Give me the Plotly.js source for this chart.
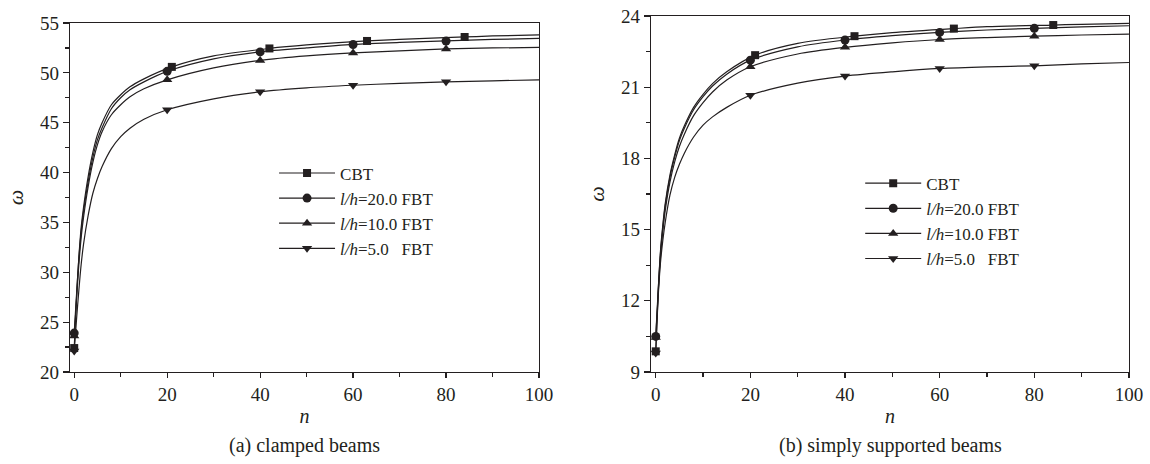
<!DOCTYPE html>
<html>
<head>
<meta charset="utf-8">
<script src="https://cdn.plot.ly/plotly-3.0.1.min.js"></script>
<style>html,body{margin:0;padding:0;background:#fff}#chart{width:1150px;height:464px}</style>
</head>
<body>
<div id="chart"></div>
<script>
// ---------- data ----------
var seriesNames = ['CBT', '<i>l/h</i>=20.0 FBT', '<i>l/h</i>=10.0 FBT', '<i>l/h</i>=5.0\u00a0\u00a0\u00a0FBT'];

// n values used for each curve
var nCBT = [0, 0.5, 1, 1.5, 2, 3, 4, 5, 6, 8, 10, 12, 15, 21, 30, 42, 50, 63, 70, 84, 90, 100];
var nFBT = [0, 0.5, 1, 1.5, 2, 3, 4, 5, 6, 8, 10, 12, 15, 20, 30, 40, 50, 60, 70, 80, 90, 100];
// n values where a symbol is drawn
var markCBT = [0, 21, 42, 63, 84];
var markFBT = [0, 20, 40, 60, 80];

// (a) clamped beams
var clampedCBT  = [22.4, 27.5, 31.5, 34.5, 36.5, 39.6, 42.0, 43.8, 45.0, 46.8, 47.8, 48.6, 49.4, 50.6, 51.7, 52.45, 52.8, 53.2, 53.35, 53.6, 53.7, 53.8];
var clampedLh20 = [23.9, 27.8, 31.4, 34.1, 36.1, 39.1, 41.5, 43.3, 44.5, 46.4, 47.5, 48.3, 49.1, 50.15, 51.4, 52.1, 52.5, 52.85, 53.05, 53.2, 53.35, 53.45];
var clampedLh10 = [23.6, 27.3, 30.8, 33.5, 35.5, 38.6, 41.0, 42.8, 44.1, 45.8, 46.8, 47.6, 48.4, 49.3, 50.5, 51.25, 51.7, 52.0, 52.2, 52.4, 52.5, 52.55];
var clampedLh5  = [22.1, 25.3, 28.2, 30.8, 32.8, 35.7, 37.9, 39.4, 40.6, 42.4, 43.6, 44.45, 45.35, 46.3, 47.4, 48.1, 48.5, 48.76, 48.95, 49.1, 49.2, 49.3];

// (b) simply supported beams
var simpleCBT  = [9.87, 12.3, 14.1, 15.2, 16.1, 17.3, 18.15, 18.85, 19.35, 20.15, 20.7, 21.15, 21.65, 22.35, 22.85, 23.15, 23.3, 23.47, 23.55, 23.62, 23.65, 23.69];
var simpleLh20 = [10.5, 12.4, 14.0, 15.1, 16.0, 17.2, 18.05, 18.75, 19.25, 20.05, 20.6, 21.05, 21.55, 22.14, 22.7, 22.99, 23.17, 23.31, 23.41, 23.48, 23.54, 23.59];
var simpleLh10 = [10.45, 12.25, 13.85, 14.95, 15.8, 17.0, 17.85, 18.5, 19.0, 19.8, 20.35, 20.8, 21.3, 21.86, 22.4, 22.68, 22.87, 23.01, 23.09, 23.15, 23.2, 23.24];
var simpleLh5  = [9.8, 12.1, 13.6, 14.55, 15.3, 16.45, 17.2, 17.75, 18.2, 18.9, 19.4, 19.75, 20.15, 20.66, 21.17, 21.47, 21.65, 21.79, 21.86, 21.9, 21.98, 22.04];

var xTickVals = [0, 20, 40, 60, 80, 100];
var yTickValsA = [20, 25, 30, 35, 40, 45, 50, 55];
var yTickValsB = [9, 12, 15, 18, 21, 24];
var panelLabels = ['(a) clamped beams', '(b) simply supported beams'];

// ---------- build ----------
var INK = '#231f20';
var FONT = 'Liberation Serif, Times New Roman, serif';
var symbols = ['square', 'circle', 'triangle-up', 'triangle-down'];

function colorsFor(nArr, marks) {
  return nArr.map(function (v) { return marks.indexOf(v) >= 0 ? INK : 'rgba(0,0,0,0)'; });
}

function mk(nArr, yArr, marks, idx, xa, ya, leg) {
  return {
    type: 'scatter', mode: 'lines+markers',
    x: nArr, y: yArr, xaxis: xa, yaxis: ya, legend: leg,
    name: seriesNames[idx],
    line: {color: INK, width: 1.2, shape: 'spline', smoothing: 0.8},
    marker: {symbol: symbols[idx], size: idx === 0 ? 8 : 9, color: colorsFor(nArr, marks), line: {width: 0}},
    cliponaxis: false, hoverinfo: 'x+y'
  };
}

var data = [
  mk(nCBT, clampedCBT, markCBT, 0, 'x', 'y', 'legend'),
  mk(nFBT, clampedLh20, markFBT, 1, 'x', 'y', 'legend'),
  mk(nFBT, clampedLh10, markFBT, 2, 'x', 'y', 'legend'),
  mk(nFBT, clampedLh5, markFBT, 3, 'x', 'y', 'legend'),
  mk(nCBT, simpleCBT, markCBT, 0, 'x2', 'y2', 'legend2'),
  mk(nFBT, simpleLh20, markFBT, 1, 'x2', 'y2', 'legend2'),
  mk(nFBT, simpleLh10, markFBT, 2, 'x2', 'y2', 'legend2'),
  mk(nFBT, simpleLh5, markFBT, 3, 'x2', 'y2', 'legend2')
];

var tickFont = {family: FONT, size: 19, color: INK};

function xMain(domain, range, anchor) {
  return {
    domain: domain, range: range, anchor: anchor,
    tickmode: 'array', tickvals: xTickVals,
    ticks: 'outside', ticklen: 5, tickwidth: 1.2, tickcolor: INK,
    minor: {dtick: 10, tick0: 0, ticks: 'outside', ticklen: 4, tickwidth: 1.2, tickcolor: INK},
    showline: true, linecolor: INK, linewidth: 1.2, mirror: true,
    showgrid: false, zeroline: false, tickfont: tickFont,
    title: {text: '<i>n</i>', font: {family: FONT, size: 20, color: INK}, standoff: 5}
  };
}
function xTop(over, range, anchor) {
  return {
    overlaying: over, side: 'top', anchor: anchor, range: range,
    tickmode: 'array', tickvals: xTickVals,
    ticks: 'inside', ticklen: 5, tickwidth: 1.2, tickcolor: INK,
    minor: {dtick: 10, tick0: 0, ticks: 'inside', ticklen: 4, tickwidth: 1.2, tickcolor: INK},
    showticklabels: false, showline: false, showgrid: false, zeroline: false
  };
}
function yMain(domain, range, anchor, vals, minorStep) {
  return {
    domain: domain, range: range, anchor: anchor,
    tickmode: 'array', tickvals: vals,
    ticks: 'outside', ticklen: 6, tickwidth: 1.2, tickcolor: INK,
    minor: {dtick: minorStep, tick0: vals[0], ticks: 'outside', ticklen: 4, tickwidth: 1.2, tickcolor: INK},
    showline: true, linecolor: INK, linewidth: 1.2, mirror: true,
    showgrid: false, zeroline: false, tickfont: tickFont,
    title: {text: '<i>ω</i>', font: {family: FONT, size: 22, color: INK}, standoff: 10}
  };
}
function yRight(over, range, anchor, vals, minorStep) {
  return {
    overlaying: over, side: 'right', anchor: anchor, range: range,
    tickmode: 'array', tickvals: vals,
    ticks: 'inside', ticklen: 6, tickwidth: 1.2, tickcolor: INK,
    minor: {dtick: minorStep, tick0: vals[0], ticks: 'inside', ticklen: 4, tickwidth: 1.2, tickcolor: INK},
    showticklabels: false, showline: false, showgrid: false, zeroline: false
  };
}

var rangeXA = [-0.9, 100], rangeXB = [-1.0, 100];
var rangeYA = [20, 55], rangeYB = [9, 24];
var legendFont = {family: FONT, size: 17, color: INK};

var layout = {
  width: 1150, height: 464,
  margin: {l: 0, r: 0, t: 0, b: 0},
  paper_bgcolor: '#fff', plot_bgcolor: 'rgba(0,0,0,0)',
  font: {family: FONT, color: INK},
  showlegend: true,
  xaxis: xMain([0.0609, 0.4687], rangeXA, 'y'),
  yaxis: yMain([0.1983, 0.9504], rangeYA, 'x', yTickValsA, 2.5),
  xaxis2: xMain([0.5661, 0.9817], rangeXB, 'y2'),
  yaxis2: yMain([0.1983, 0.9655], rangeYB, 'x2', yTickValsB, 1.5),
  xaxis3: xTop('x', rangeXA, 'y'),
  yaxis3: yRight('y', rangeYA, 'x', yTickValsA, 2.5),
  xaxis4: xTop('x2', rangeXB, 'y2'),
  yaxis4: yRight('y2', rangeYB, 'x2', yTickValsB, 1.5),
  legend: {x: 0.2383, y: 0.665, xanchor: 'left', yanchor: 'top', bgcolor: 'rgba(0,0,0,0)',
           font: legendFont, itemwidth: 56, tracegroupgap: 0},
  legend2: {x: 0.748, y: 0.643, xanchor: 'left', yanchor: 'top', bgcolor: 'rgba(0,0,0,0)',
            font: legendFont, itemwidth: 56, tracegroupgap: 0},
  annotations: [
    {text: panelLabels[0], xref: 'paper', yref: 'paper', x: 0.265, y: 0.04, xanchor: 'center', yanchor: 'middle',
     showarrow: false, font: {family: FONT, size: 20, color: INK}},
    {text: panelLabels[1], xref: 'paper', yref: 'paper', x: 0.774, y: 0.04, xanchor: 'center', yanchor: 'middle',
     showarrow: false, font: {family: FONT, size: 20, color: INK}}
  ]
};

Plotly.newPlot('chart', data, layout, {staticPlot: true, displayModeBar: false});
</script>
</body>
</html>
